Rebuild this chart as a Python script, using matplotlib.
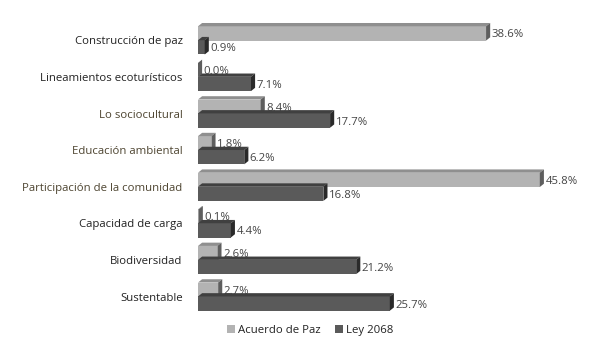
import numpy as np
import matplotlib.pyplot as plt
from matplotlib.patches import Polygon, Patch

plt.rcParams['font.family'] = ['Open Sans', 'DejaVu Sans']

categorias = ['Construcción de paz', 'Lineamientos ecoturísticos', 'Lo sociocultural',
              'Educación ambiental', 'Participación de la comunidad', 'Capacidad de carga',
              'Biodiversidad', 'Sustentable']
acuerdo_paz = [38.6, 0.0, 8.4, 1.8, 45.8, 0.1, 2.6, 2.7]
ley_2068 = [0.9, 7.1, 17.7, 6.2, 16.8, 4.4, 21.2, 25.7]
color_etiqueta = ['#222222', '#222222', '#4d4430', '#4d4430', '#4d4430', '#222222', '#222222', '#222222']

fig = plt.figure(figsize=(6, 3.62), dpi=100)
ax = fig.add_axes([0.33, 0.13, 0.653, 0.809])

h = 0.39
dx, dy = 0.55, 0.09   # profundidad del efecto 3D


def barra3d(y, w, frente, arriba, lado, z):
    top = y - h / 2
    ax.add_patch(Polygon([(0, top), (w, top), (w, top + h), (0, top + h)],
                         closed=True, facecolor=frente, edgecolor='none', zorder=z))
    ax.add_patch(Polygon([(0, top), (w, top), (w + dx, top - dy), (dx, top - dy)],
                         closed=True, facecolor=arriba, edgecolor='none', zorder=z))
    ax.add_patch(Polygon([(w, top), (w + dx, top - dy), (w + dx, top + h - dy), (w, top + h)],
                         closed=True, facecolor=lado, edgecolor='none', zorder=z))


for i, (a, b) in enumerate(zip(acuerdo_paz, ley_2068)):
    ya, yb = i - 0.19, i + 0.19
    barra3d(ya, a, '#b3b3b3', '#8f8f8f', '#5e5e5e', 1)
    ax.text(a + dx + 0.2, ya + 0.04, f'{a:.1f}%', va='center', ha='left',
            fontsize=8.2, color='#444444', zorder=2)
    barra3d(yb, b, '#5a5a5a', '#404040', '#2a2a2a', 3)
    ax.text(b + dx + 0.2, yb + 0.04, f'{b:.1f}%', va='center', ha='left',
            fontsize=8.2, color='#444444', zorder=4)

ax.set_xlim(0, 52.5)
ax.set_ylim(7.5, -0.5)
ax.set_yticks(range(len(categorias)))
ax.set_yticklabels(categorias, fontsize=8.2)
for lbl, c in zip(ax.get_yticklabels(), color_etiqueta):
    lbl.set_color(c)
ax.tick_params(axis='y', length=0, pad=11)
ax.set_xticks([])
for s in ax.spines.values():
    s.set_visible(False)

handles = [Patch(facecolor='#b3b3b3', label='Acuerdo de Paz'),
           Patch(facecolor='#5a5a5a', label='Ley 2068')]
fig.legend(handles=handles, loc='center', bbox_to_anchor=(0.517, 0.088), ncol=2,
           frameon=False, fontsize=8.2, handlelength=0.7, handleheight=0.7,
           handletextpad=0.3, columnspacing=1.2, labelcolor='#222222')

fig.savefig('out.png', dpi=100)
